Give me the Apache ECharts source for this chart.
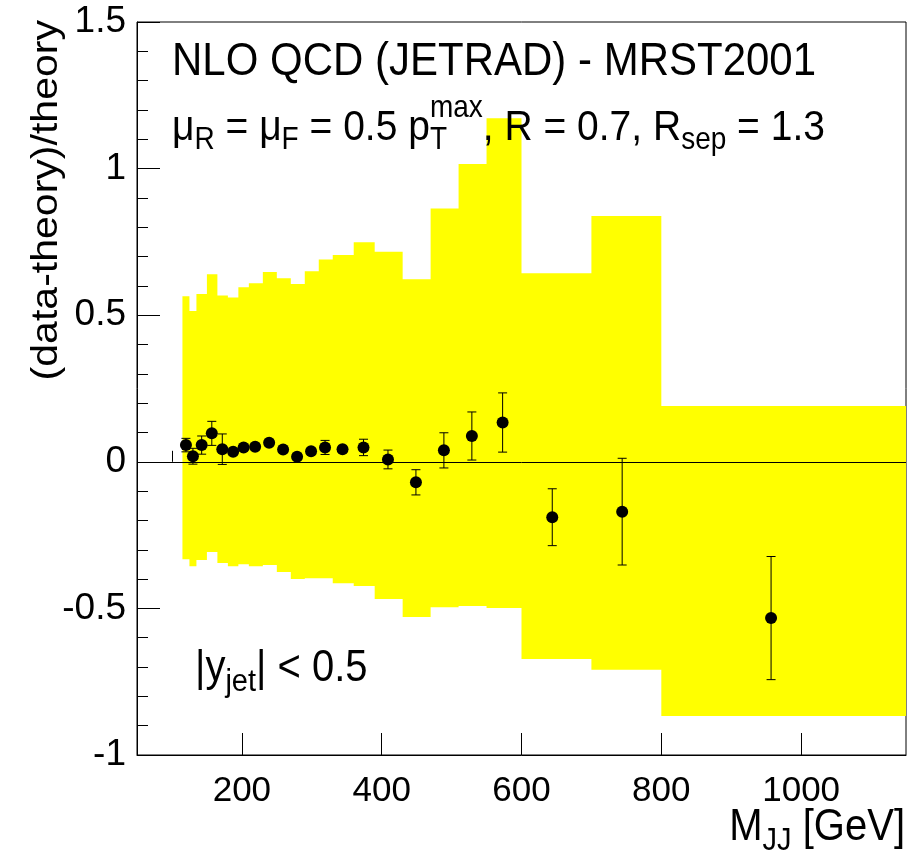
<!DOCTYPE html>
<html><head><meta charset="utf-8">
<script src="https://cdn.jsdelivr.net/npm/echarts@6/dist/echarts.min.js"></script>
<style>html,body{margin:0;padding:0;background:#fff}#c{width:919px;height:856px}</style>
</head><body><div id="c"></div>
<script>
// ---- data ----
const binEdges  = [115,125,135,150,165,180,195,210,230,250,270,290,310,330,360,390,430,470,510,550,600,700,800,1150];
const bandUpper = [0.565,0.514,0.572,0.640,0.567,0.560,0.595,0.609,0.647,0.626,0.606,0.650,0.690,0.705,0.749,0.716,0.623,0.864,1.016,1.172,0.643,0.838,0.190];
const bandLower = [-0.332,-0.356,-0.335,-0.308,-0.345,-0.356,-0.349,-0.356,-0.352,-0.376,-0.400,-0.397,-0.397,-0.414,-0.424,-0.468,-0.529,-0.496,-0.492,-0.499,-0.673,-0.709,-0.867];
const massPts   = [120,130,142.5,157,172,187.5,202.5,219,239,259,279,299,319,344,374,409,449,489,529,573,644,744,957];
const ratio     = [0.057,0.019,0.057,0.097,0.043,0.034,0.049,0.051,0.065,0.042,0.017,0.036,0.049,0.043,0.049,0.008,-0.070,0.039,0.088,0.134,-0.189,-0.170,-0.533];
const ratioErr  = [0.023,0.027,0.031,0.041,0.052,0.010,0.010,0.010,0.010,0.010,0.010,0.010,0.024,0.010,0.028,0.032,0.043,0.060,0.082,0.101,0.097,0.182,0.210];
const xMajorTicks = [200,400,600,800,1000];
const xMinorTicks = [100,150,250,300,350,450,500,550,650,700,750,850,900,950,1050,1100];

const FONT = "'Liberation Sans', Arial, Helvetica, sans-serif";
const mctx = document.createElement('canvas').getContext('2d');
function measure(t, size){ mctx.font = size + 'px ' + FONT; return mctx.measureText(t).width; }

// lay out a row of text pieces (main text, sub/superscripts) with baseline at baseY
function textRow(items, xPos, baseY, alignRight, scaleY){
  let x = 0, pend = 0;
  const children = [];
  for (const it of items){
    const w = measure(it.t, it.size);
    children.push({type:'text', x: x, y: (it.dy || 0) - 0.3465 * it.size, z:100,
      style:{text: it.t, font: it.size + 'px ' + FONT, fill:'#000', align:'left', verticalAlign:'middle'}});
    if (it.stack){ pend = Math.max(pend, w); }
    else { x += Math.max(w, pend); pend = 0; }
  }
  return {type:'group', x: alignRight ? xPos - x : xPos, y: baseY, scaleY: scaleY, z:100, children: children, silent:true};
}

const M = 42, L = 39, S = 28;
const titleRow = textRow([{t:'NLO QCD (JETRAD) - MRST2001', size:M}], 172, 78, false, 1.1);
const paramRow = textRow([
  {t:'\u03bc', size:L}, {t:'R', size:S, dy:7},
  {t:' = \u03bc', size:L}, {t:'F', size:S, dy:7},
  {t:' = 0.5 p', size:L}, {t:'T', size:S, dy:7, stack:true}, {t:'max', size:S, dy:-22},
  {t:', R = 0.7, R', size:L}, {t:'sep', size:S, dy:7},
  {t:' = 1.3', size:L}
], 172, 143, false, 1.1);
const yjetRow = textRow([
  {t:'|y', size:40}, {t:'jet', size:29, dy:8}, {t:'| < 0.5', size:40}
], 195, 684, false, 1.1);
const xTitleRow = textRow([
  {t:'M', size:40}, {t:'JJ', size:29, dy:8}, {t:' [GeV]', size:40}
], 905, 843, true, 1.1);

const chart = echarts.init(document.getElementById('c'), null, {renderer:'canvas'});
chart.setOption({
  animation:false,
  backgroundColor:'#fff',
  grid:{left:137, right:13, top:22, bottom:101, show:true, borderColor:'#000', borderWidth:1, backgroundColor:'transparent'},
  xAxis:[{
    type:'value', min:50, max:1150, position:'bottom',
    axisLine:{show:true, onZero:false, lineStyle:{color:'#000', width:1}},
    axisTick:{show:true, inside:true, length:22, customValues:xMajorTicks, lineStyle:{color:'#000', width:1}},
    axisLabel:{show:true, customValues:xMajorTicks, color:'#000', fontSize:35, fontFamily:FONT, margin:19,
      formatter:function(v){ return String(v); }},
    splitLine:{show:false}
  },{
    type:'value', min:50, max:1150, position:'bottom',
    axisLine:{show:false},
    axisTick:{show:true, inside:true, length:11, customValues:xMinorTicks, lineStyle:{color:'#000', width:1}},
    axisLabel:{show:false}, splitLine:{show:false}
  }],
  yAxis:{
    type:'value', min:-1, max:1.5, interval:0.5,
    axisLine:{show:true, onZero:false, lineStyle:{color:'#000', width:1}},
    axisTick:{show:true, inside:true, length:23, lineStyle:{color:'#000', width:1}},
    minorTick:{show:true, splitNumber:5, length:11, lineStyle:{color:'#000', width:1}},
    axisLabel:{color:'#000', fontSize:37, fontFamily:FONT, margin:11},
    splitLine:{show:false}, minorSplitLine:{show:false}
  },
  series:[
    {
      type:'custom', z:1, silent:true, clip:true,
      data:[[binEdges[0], 0]],
      renderItem:function(params, api){
        const pts = [];
        for (let i = 0; i < bandUpper.length; i++){
          pts.push(api.coord([binEdges[i], bandUpper[i]]));
          pts.push(api.coord([binEdges[i+1], bandUpper[i]]));
        }
        for (let i = bandLower.length - 1; i >= 0; i--){
          pts.push(api.coord([binEdges[i+1], bandLower[i]]));
          pts.push(api.coord([binEdges[i], bandLower[i]]));
        }
        return {type:'polygon', shape:{points:pts}, style:{fill:'#ffff00', stroke:null}};
      }
    },
    {
      type:'custom', z:3, silent:true,
      data: massPts.map((m,i) => [m, ratio[i] - ratioErr[i], ratio[i] + ratioErr[i]]),
      encode:{x:0, y:[1,2]},
      renderItem:function(params, api){
        const x = api.value(0);
        const lo = api.coord([x, api.value(1)]);
        const hi = api.coord([x, api.value(2)]);
        const hw = 4.5, st = {stroke:'#000', lineWidth:1};
        return {type:'group', children:[
          {type:'line', shape:{x1:lo[0], y1:lo[1], x2:hi[0], y2:hi[1]}, style:st},
          {type:'line', shape:{x1:lo[0]-hw, y1:lo[1], x2:lo[0]+hw, y2:lo[1]}, style:st},
          {type:'line', shape:{x1:hi[0]-hw, y1:hi[1], x2:hi[0]+hw, y2:hi[1]}, style:st}
        ]};
      },
      markLine:{silent:true, symbol:'none', label:{show:false}, animation:false,
        lineStyle:{color:'#000', width:1, type:'solid', opacity:1}, data:[{yAxis:0}]}
    },
    {
      type:'scatter', z:5, silent:true,
      symbol:'circle', symbolSize:12,
      itemStyle:{color:'#000', opacity:1},
      data: massPts.map((m,i) => [m, ratio[i]])
    }
  ],
  graphic:[
    titleRow, paramRow, yjetRow, xTitleRow,
    {type:'text', x:47, y:20, rotation:Math.PI/2, scaleX:1.14, silent:true, z:100,
     style:{text:'(data-theory)/theory', font:'36px ' + FONT, fill:'#000', align:'right', verticalAlign:'middle'}}
  ]
});
</script>
</body></html>
